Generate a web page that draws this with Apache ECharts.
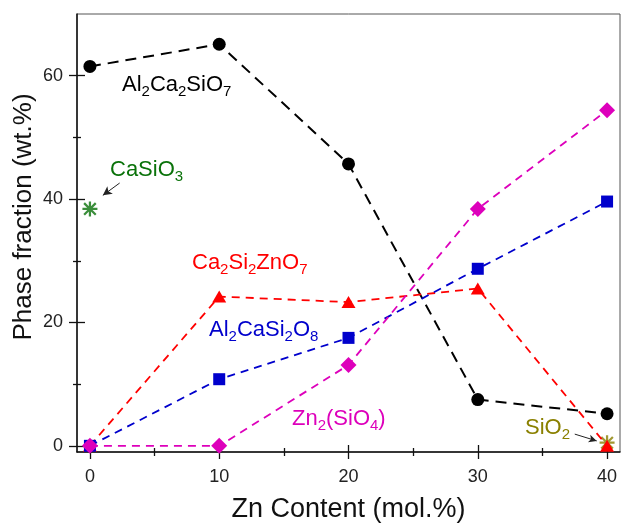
<!DOCTYPE html>
<html>
<head>
<meta charset="utf-8">
<script src="https://cdn.jsdelivr.net/npm/echarts@6/dist/echarts.min.js"></script>
<style>
html, body { margin: 0; padding: 0; background: #fff; }
#chart { width: 621px; height: 524px; }
</style>
</head>
<body>
<div id="chart"></div>
<script>
// data (Zn content in mol.%, phase fraction in wt.%)
var znContent = [0, 10, 20, 30, 40];
var al2ca2sio7 = [61.5, 65.1, 45.7, 7.5, 5.2];
var ca2si2zno7 = [0, 24.2, 23.3, 25.5, 0];
var al2casi2o8 = [0, 10.8, 17.5, 28.7, 39.6];
var zn2sio4 = [0, 0, 13.1, 38.4, 54.4];
var casio3 = [[0, 38.4]];
var sio2 = [[40, 0.5]];

var xMajor = [0, 10, 20, 30, 40];
var xMinor = [5, 15, 25, 35];
var yMajor = [0, 20, 40, 60];
var yMinor = [10, 30, 50];

var font = 'Liberation Sans, Arial, sans-serif';
var starPath = 'path://M8.5 0H11.5V20H8.5Z M0 8.5H20V11.5H0Z M1.2 3.3L3.3 1.2L18.8 16.7L16.7 18.8Z M16.7 1.2L18.8 3.3L3.3 18.8L1.2 16.7Z';

function pairs(ys) {
    return znContent.map(function(x, i) { return [x, ys[i]]; });
}

// main axis: line + labels, no ticks
function mainAxis(dim, ticks) {
    var a = {
        type: 'value',
        min: -1,
        max: dim == 'x' ? 41 : 70,
        position: dim == 'x' ? 'bottom' : 'left',
        splitLine: { show: false },
        axisLine: { show: true, onZero: false, lineStyle: { color: '#111', width: 1.5 } },
        axisTick: { show: false },
        axisLabel: { show: true, customValues: ticks, fontSize: 18, color: '#222',
            fontFamily: font, margin: dim == 'x' ? 16 : 14 }
    };
    if (dim == 'x') {
        a.name = 'Zn Content (mol.%)';
        a.nameLocation = 'middle';
        a.nameGap = 44;
        a.nameTextStyle = { fontSize: 27, color: '#111', fontFamily: font };
    }
    return a;
}

// tick-only axis, shifted inward by half its tick length so ticks cross the axis line
function tickAxis(dim, ticks, len) {
    return {
        type: 'value',
        min: -1,
        max: dim == 'x' ? 41 : 70,
        position: dim == 'x' ? 'bottom' : 'left',
        offset: -len / 2,
        splitLine: { show: false },
        axisLine: { show: false, onZero: false },
        axisTick: { show: true, inside: false, length: len, customValues: ticks,
            lineStyle: { color: '#111', width: 1.3 } },
        axisLabel: { show: false }
    };
}

function formula(parts, color, x, y) {
    // parts: alternating normal / subscript pieces
    var txt = '';
    for (var i = 0; i < parts.length; i++) {
        if (parts[i] === '') continue;
        txt += '{' + (i % 2 ? 's' : 'n') + '|' + parts[i] + '}';
    }
    return {
        type: 'text', x: x, y: y, silent: true, z: 100,
        style: {
            text: txt, fill: color, align: 'left', verticalAlign: 'middle',
            rich: {
                n: { fontSize: 22, lineHeight: 28, fontFamily: font, fill: color },
                s: { fontSize: 15, lineHeight: 15, verticalAlign: 'bottom', fontFamily: font, fill: color }
            }
        }
    };
}

function lineSeries(name, ys, color, symbol, size, dash, width) {
    return {
        name: name, type: 'line', data: pairs(ys),
        xAxisIndex: 0, yAxisIndex: 0,
        symbol: symbol, symbolSize: size, showAllSymbol: true,
        itemStyle: { color: color },
        lineStyle: { color: color, width: width, type: dash },
        emphasis: { disabled: true }
    };
}

var chart = echarts.init(document.getElementById('chart'));
chart.setOption({
    animation: false,
    grid: { left: 77, right: 1, top: 14, bottom: 72, outerBoundsMode: 'none',
        show: true, borderColor: '#555', borderWidth: 1 },
    xAxis: [
        mainAxis('x', xMajor),
        tickAxis('x', xMajor, 14),
        tickAxis('x', xMinor, 8)
    ],
    yAxis: [
        mainAxis('y', yMajor),
        tickAxis('y', yMajor, 16),
        tickAxis('y', yMinor, 8)
    ],
    series: [
        lineSeries('Al2Ca2SiO7', al2ca2sio7, '#000000', 'circle', 13, [11, 7], 2),
        lineSeries('Ca2Si2ZnO7', ca2si2zno7, '#ff0000', 'triangle', [14, 12], [8, 6], 1.8),
        lineSeries('Al2CaSi2O8', al2casi2o8, '#0000cc', 'rect', 12, [8, 6], 1.8),
        lineSeries('Zn2(SiO4)', zn2sio4, '#dd00bb', 'diamond', 16, [8, 6], 1.8),
        {
            name: 'CaSiO3', type: 'scatter', data: casio3,
            symbol: starPath, symbolSize: 15, symbolKeepAspect: true,
            itemStyle: { color: '#0a720a' },
            emphasis: { disabled: true },
            markLine: {
                silent: true, symbol: ['none', 'arrow'], symbolSize: [7, 9],
                label: { show: false }, emphasis: { disabled: true },
                lineStyle: { color: '#222', width: 1, type: 'solid' },
                data: [[{ coord: [2.3, 42.6] }, { coord: [1.0, 40.6] }]]
            }
        },
        {
            name: 'SiO2', type: 'scatter', data: sio2,
            symbol: starPath, symbolSize: 15, symbolKeepAspect: true,
            itemStyle: { color: '#8a8000' },
            emphasis: { disabled: true },
            markLine: {
                silent: true, symbol: ['none', 'arrow'], symbolSize: [6, 8],
                label: { show: false }, emphasis: { disabled: true },
                lineStyle: { color: '#222', width: 1, type: 'solid' },
                data: [[{ coord: [37.5, 1.9] }, { coord: [39.2, 0.8] }]]
            }
        }
    ],
    graphic: [
        {
            type: 'text', x: 24, y: 217, rotation: Math.PI / 2, silent: true,
            style: { text: 'Phase fraction (wt.%)', fill: '#111', align: 'center',
                verticalAlign: 'middle', fontSize: 26, fontFamily: font }
        },
        formula(['Al', '2', 'Ca', '2', 'SiO', '7'], '#000000', 122, 85),
        formula(['CaSiO', '3'], '#0a720a', 110, 170),
        formula(['Ca', '2', 'Si', '2', 'ZnO', '7'], '#ff0000', 192, 263),
        formula(['Al', '2', 'CaSi', '2', 'O', '8'], '#0000cc', 209, 330),
        formula(['Zn', '2', '(SiO', '4', ')'], '#dd00bb', 292, 419),
        formula(['SiO', '2'], '#8a8000', 525, 428)
    ]
});
</script>
</body>
</html>
